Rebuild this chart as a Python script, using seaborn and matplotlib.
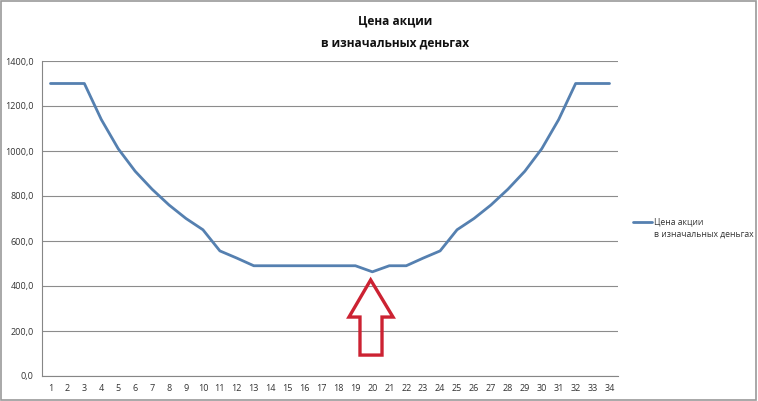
import numpy as np
import pandas as pd
import seaborn as sns
import matplotlib.pyplot as plt
from matplotlib.patches import Polygon, Rectangle
from matplotlib.ticker import FuncFormatter, MultipleLocator

# Data
days = list(range(1, 35))
prices = [1300, 1300, 1300, 1140, 1010, 910, 830, 760, 700, 650, 556, 524,
          490, 490, 490, 490, 490, 490, 490, 463, 490, 490,
          524, 556, 650, 700, 760, 830, 910, 1010, 1140, 1300, 1300, 1300]
series_name = 'Цена акции\nв изначальных деньгах'
title = 'Цена акции\nв изначальных деньгах'

df = pd.DataFrame({'day': days, 'price': prices})

sns.set_style('white')
plt.rcParams['font.family'] = ['Open Sans', 'DejaVu Sans']

fig = plt.figure(figsize=(7.58, 4.01), dpi=100)
ax = fig.add_axes([42 / 758, 1 - 376 / 401, 576 / 758, 315 / 401])

sns.lineplot(data=df, x='day', y='price', ax=ax, color='#5580B0', linewidth=2.0,
             label=series_name)

ax.set_xlim(0.5, 34.5)
ax.set_ylim(0, 1400)
ax.yaxis.set_major_locator(MultipleLocator(200))
ax.yaxis.set_major_formatter(FuncFormatter(lambda v, p: f'{v:.1f}'.replace('.', ',')))
ax.set_xticks(days)
ax.set_xticks(np.arange(0.5, 35, 1), minor=True)
ax.tick_params(axis='x', which='major', length=0, labelsize=6.5, colors='#333333', pad=6)
ax.tick_params(axis='x', which='minor', length=4, color='#868686', width=0.8)
ax.tick_params(axis='y', which='major', length=4, color='#868686', width=0.8,
               labelsize=6.5, labelcolor='#333333', pad=2)
ax.grid(True, axis='y', color='#8c8c8c', linewidth=0.8)
ax.set_axisbelow(True)
for s in ['top', 'right']:
    ax.spines[s].set_visible(False)
for s in ['left', 'bottom']:
    ax.spines[s].set_color('#868686')
    ax.spines[s].set_linewidth(0.8)
ax.set_xlabel('')
ax.set_ylabel('')

# red hollow arrow pointing at the minimum
i_min = int(np.argmin(prices))
xm = days[i_min]
arrow = [(xm - 0.10, 427), (xm + 1.22, 262), (xm + 0.57, 262), (xm + 0.57, 93),
         (xm - 0.73, 93), (xm - 0.73, 262), (xm - 1.38, 262)]
ax.add_patch(Polygon(arrow, closed=True, fill=False, edgecolor='#CC2232',
                     linewidth=2.4, joinstyle='miter', clip_on=False))

leg = ax.legend(loc='center left', bbox_to_anchor=(1.012, 0.47), frameon=False,
                fontsize=6.2, handlelength=2.3, handletextpad=0.15)
for t in leg.get_texts():
    t.set_color('#333333')
    t.set_linespacing(1.55)
# put the legend line level with the first text line, as in the original
for ln in leg.get_lines():
    ln.set_ydata(np.asarray(ln.get_ydata()) + 4.5)

fig.text(395 / 758, 1 - 32 / 401, title, ha='center', va='center',
         fontsize=8.6, fontweight='bold', color='#111111', linespacing=1.9)

fig.patches.append(Rectangle((0.001, 0.002), 0.997, 0.995, transform=fig.transFigure,
                             fill=False, edgecolor='#9a9a9a', linewidth=1.2))

fig.savefig('out.png', dpi=100)
